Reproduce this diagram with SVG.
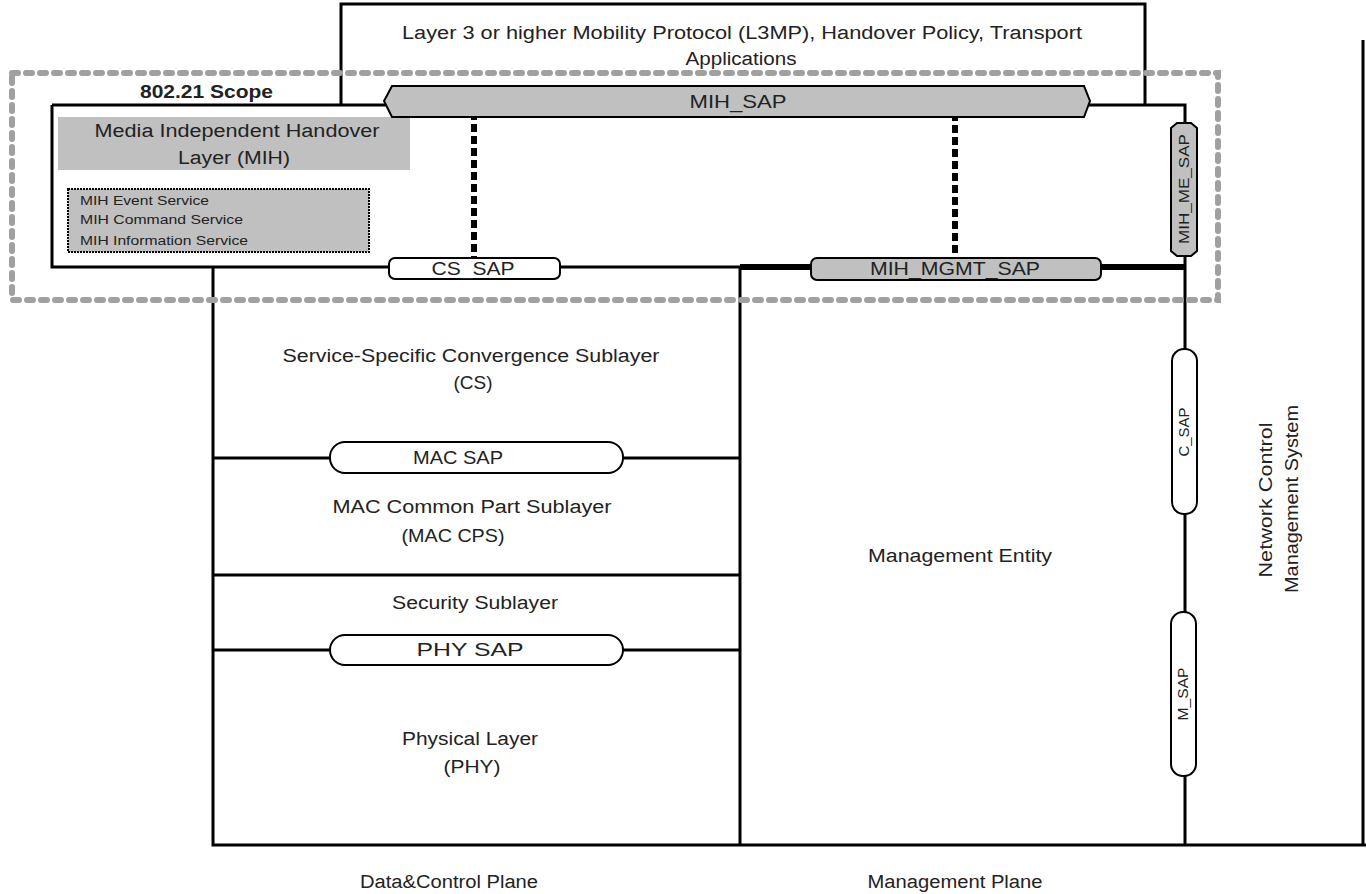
<svg xmlns="http://www.w3.org/2000/svg" width="1366" height="894" viewBox="0 0 1366 894">
<style>
text{font-family:"Liberation Sans",Arial,sans-serif;fill:#222;}
.t{font-size:18px;text-anchor:middle;}
.s{font-size:12px;}
.ln{stroke:#000;stroke-width:3;fill:none;}
.thk{stroke:#000;stroke-width:6;fill:none;}
.sapw{fill:#fff;stroke:#000;stroke-width:2;}
.sapg{fill:#c0c0c0;stroke:#000;stroke-width:2;}
</style>
<rect width="1366" height="894" fill="#fff"/>
<g id="connectors">
<path class="ln" d="M341,105 V4 H1145 V105"/>
<path class="ln" d="M52,105 H1185 V845 M52,105 V267 H740"/>
<path class="thk" d="M740,267 H1185"/>
<path class="ln" d="M213,267 V845 H1366 M740,267 V845 M1363,40 V845"/>
<path class="ln" d="M213,458 H740 M213,575 H740 M213,650 H740"/>
<path stroke="#000" stroke-width="6" stroke-dasharray="8,4" d="M474,112 V258 M955,113 V258"/>
</g>
<g id="scope">
<rect x="12" y="73" width="1206" height="227" fill="none" stroke="#a0a0a0" stroke-width="6" stroke-dasharray="6,8" stroke-linecap="round"/>
<text x="140" y="98" style="font-size:19px;font-weight:bold" textLength="133" lengthAdjust="spacingAndGlyphs">802.21 Scope</text>
</g>
<g id="l3mp">
<text class="t" x="742" y="39" textLength="680" lengthAdjust="spacingAndGlyphs">Layer 3 or higher Mobility Protocol (L3MP), Handover Policy, Transport</text>
<text class="t" x="741" y="65" textLength="111" lengthAdjust="spacingAndGlyphs">Applications</text>
</g>
<g id="mih">
<rect x="58" y="117" width="352" height="53" fill="#c0c0c0"/>
<text class="t" x="237" y="137" textLength="285" lengthAdjust="spacingAndGlyphs">Media Independent Handover</text>
<text class="t" x="234" y="164" textLength="112" lengthAdjust="spacingAndGlyphs">Layer (MIH)</text>
<rect x="68" y="189" width="301" height="63" fill="#c0c0c0" stroke="#000" stroke-width="2" stroke-dasharray="2,1"/>
<text class="s" x="80" y="205" textLength="129" lengthAdjust="spacingAndGlyphs">MIH Event Service</text>
<text class="s" x="80" y="224" textLength="163" lengthAdjust="spacingAndGlyphs">MIH Command Service</text>
<text class="s" x="80" y="245" textLength="168" lengthAdjust="spacingAndGlyphs">MIH Information Service</text>
</g>
<g id="mih_sap">
<path class="sapg" d="M392,86 H1084 L1090,101 L1084,117 H392 L384,101 Z"/>
<text class="t" x="738" y="108" textLength="97" lengthAdjust="spacingAndGlyphs">MIH_SAP</text>
</g>
<g id="cs_sap">
<rect class="sapw" x="389" y="258" width="171" height="21" rx="6"/>
<text class="t" x="473" y="275" textLength="83" lengthAdjust="spacingAndGlyphs">CS_SAP</text>
</g>
<g id="mih_mgmt_sap">
<rect class="sapg" x="811" y="258" width="290" height="22" rx="6"/>
<text class="t" x="955" y="275" textLength="170" lengthAdjust="spacingAndGlyphs">MIH_MGMT_SAP</text>
</g>
<g id="mih_me_sap">
<path class="sapg" d="M1171,128 L1177,123 H1191 L1197,128 V251 L1191,256 H1177 L1171,251 Z"/>
<text style="font-size:14px;text-anchor:middle" transform="translate(1189,189) rotate(-90)" textLength="110" lengthAdjust="spacingAndGlyphs">MIH_ME_SAP</text>
</g>
<g id="cs">
<text class="t" x="471" y="362" textLength="377" lengthAdjust="spacingAndGlyphs">Service-Specific Convergence Sublayer</text>
<text class="t" x="473" y="389" textLength="39" lengthAdjust="spacingAndGlyphs">(CS)</text>
</g>
<g id="mac_sap">
<rect class="sapw" x="330" y="442" width="293" height="31" rx="15"/>
<text class="t" x="458" y="464" textLength="90" lengthAdjust="spacingAndGlyphs">MAC SAP</text>
</g>
<g id="mac_cps">
<text class="t" x="472" y="513" textLength="279" lengthAdjust="spacingAndGlyphs">MAC Common Part Sublayer</text>
<text class="t" x="453" y="542" textLength="103" lengthAdjust="spacingAndGlyphs">(MAC CPS)</text>
</g>
<g id="security">
<text class="t" x="475" y="609" textLength="166" lengthAdjust="spacingAndGlyphs">Security Sublayer</text>
</g>
<g id="phy_sap">
<rect class="sapw" x="330" y="635" width="293" height="30" rx="15"/>
<text class="t" x="470" y="656" textLength="107" lengthAdjust="spacingAndGlyphs">PHY SAP</text>
</g>
<g id="phy">
<text class="t" x="470" y="745" textLength="136" lengthAdjust="spacingAndGlyphs">Physical Layer</text>
<text class="t" x="472" y="773" textLength="57" lengthAdjust="spacingAndGlyphs">(PHY)</text>
</g>
<g id="mgmt_entity">
<text class="t" x="960" y="562" textLength="184" lengthAdjust="spacingAndGlyphs">Management Entity</text>
</g>
<g id="c_sap">
<rect class="sapw" x="1172" y="349" width="25" height="165" rx="12"/>
<text style="font-size:14px;text-anchor:middle" transform="translate(1189,432) rotate(-90)" textLength="49" lengthAdjust="spacingAndGlyphs">C_SAP</text>
</g>
<g id="m_sap">
<rect class="sapw" x="1171" y="612" width="25" height="164" rx="12"/>
<text style="font-size:14px;text-anchor:middle" transform="translate(1188,694) rotate(-90)" textLength="53" lengthAdjust="spacingAndGlyphs">M_SAP</text>
</g>
<g id="ncms">
<text class="t" transform="translate(1272,500) rotate(-90)" textLength="155" lengthAdjust="spacingAndGlyphs">Network Control</text>
<text class="t" transform="translate(1298,499) rotate(-90)" textLength="188" lengthAdjust="spacingAndGlyphs">Management System</text>
</g>
<g id="planes">
<text class="t" x="449" y="888" textLength="178" lengthAdjust="spacingAndGlyphs">Data&amp;Control Plane</text>
<text class="t" x="955" y="888" textLength="175" lengthAdjust="spacingAndGlyphs">Management Plane</text>
</g>
</svg>
